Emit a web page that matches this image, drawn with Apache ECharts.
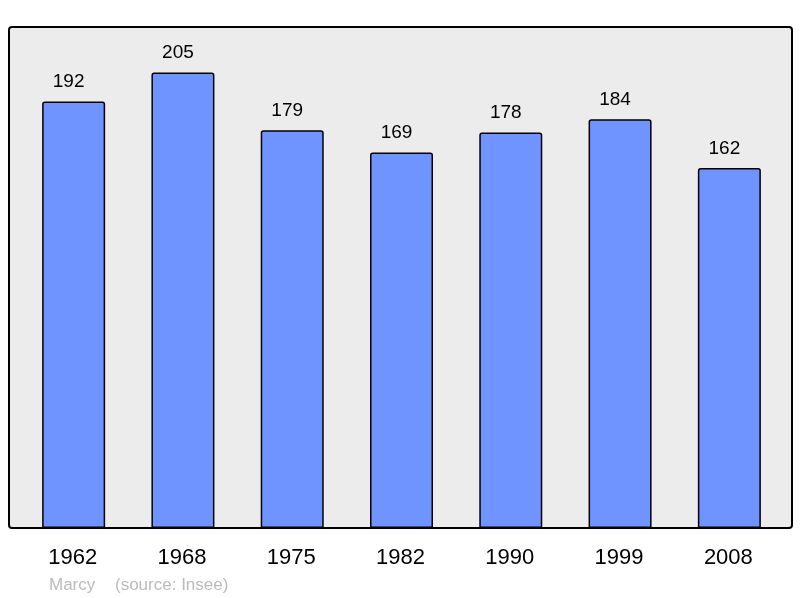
<!DOCTYPE html>
<html>
<head>
<meta charset="utf-8">
<script src="https://cdn.jsdelivr.net/npm/echarts@6/dist/echarts.min.js"></script>
<style>
  html, body { margin: 0; padding: 0; background: #fff; }
  #chart { width: 800px; height: 598px; }
</style>
</head>
<body>
<div id="chart"></div>
<script>
// population data
var years = ['1962', '1968', '1975', '1982', '1990', '1999', '2008']
var population = [192, 205, 179, 169, 178, 184, 162]
var townName = 'Marcy'
var sourceText = '(source: Insee)'

var chart = echarts.init(document.getElementById('chart'))
var option = {
  animation: false,
  textStyle: { fontFamily: 'Liberation Sans, Arial, sans-serif' },
  graphic: [
    {
      type: 'rect',
      z: -10,
      shape: { x: 9, y: 27, width: 783, height: 501, r: 3 },
      style: { fill: '#ececec', stroke: '#000', lineWidth: 2 }
    },
    {
      type: 'text',
      left: 49,
      top: 577,
      style: { text: townName, fill: '#bbbbbb', font: '17px Liberation Sans, Arial, sans-serif' }
    },
    {
      type: 'text',
      left: 115,
      top: 577,
      style: { text: sourceText, fill: '#bbbbbb', font: '17px Liberation Sans, Arial, sans-serif' }
    }
  ],
  grid: { left: 19, right: 16, top: 27, bottom: 70 },
  xAxis: {
    type: 'category',
    data: years,
    axisLine: { show: false },
    axisTick: { show: false },
    axisLabel: { color: '#000', fontSize: 22, margin: 19, padding: [0, 2, 0, 0] }
  },
  yAxis: {
    type: 'value',
    min: 0,
    max: 225.5,
    show: false,
    splitLine: { show: false }
  },
  series: [
    {
      type: 'bar',
      data: population,
      barWidth: 63,
      itemStyle: {
        color: '#7094ff',
        borderColor: '#000',
        borderWidth: 1.5,
        borderRadius: [2, 2, 0, 0]
      },
      label: {
        show: true,
        position: 'top',
        distance: 10,
        offset: [-5, 0],
        color: '#000',
        fontSize: 19
      }
    }
  ]
}
chart.setOption(option)
</script>
</body>
</html>
